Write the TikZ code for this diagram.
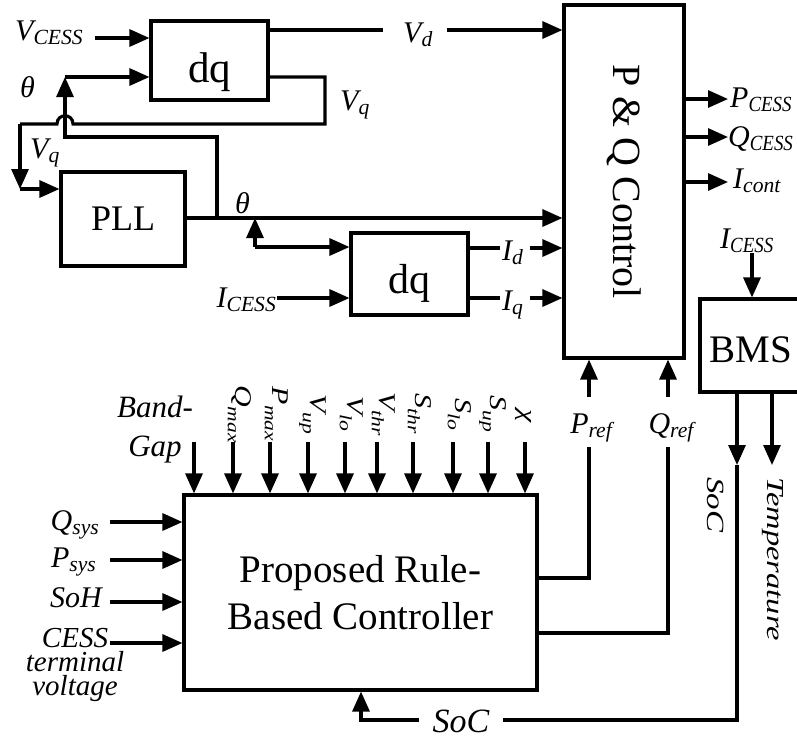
\documentclass[tikz,border=0pt]{standalone}
\usepackage{fontspec}
\setmainfont{Liberation Serif}
\usepackage{graphicx}
\usetikzlibrary{arrows.meta}
\newcommand\sbs[2]{#1\raisebox{-4pt}{\scalebox{0.72}{#2}}}
\newcommand\sbc[2]{#1\raisebox{-4pt}{\scalebox{0.63}[0.72]{#2}}}
\newcommand\sbr[2]{\scalebox{1}[0.8]{#1\raisebox{-9pt}{\scalebox{0.72}{#2}}}}
\begin{document}
\begin{tikzpicture}[x=1pt,y=-1pt,
  box/.style={draw, line width=3.1pt, inner sep=0pt},
  ln/.style={line width=3.1pt},
  arr/.style={line width=3.1pt, -{Triangle[length=20pt,width=17pt]}},
  lbl/.style={font=\fontsize{30}{34}\selectfont\itshape, inner sep=0pt},
  rlbl/.style={lbl, rotate=-90, anchor=base},
]
\useasboundingbox (0,0) rectangle (797,740);

% ---------- boxes ----------
\node[box, minimum width=117pt, minimum height=79pt, font=\fontsize{43}{43}\selectfont,
      text height=44pt, text depth=0pt] (dq1) at (209.5,60.5) {dq};
\node[box, minimum width=124pt, minimum height=94pt, font=\fontsize{36}{36}\selectfont,
      text height=22pt, text depth=0pt] (pll) at (123,219) {PLL};
\node[box, minimum width=117pt, minimum height=82pt, font=\fontsize{42}{42}\selectfont,
      text height=38pt, text depth=0pt] (dq2) at (409.5,274) {dq};
\node[box, minimum width=120pt, minimum height=353pt] (pq) at (624,181.5) {};
\node[rotate=-90, font=\fontsize{40}{40}\selectfont, inner sep=0pt] (pqt) at (pq.center) {P \& Q Control};
\node[box, minimum width=102pt, minimum height=93pt, font=\fontsize{39}{39}\selectfont,
      text height=34pt, text depth=0pt] (bms) at (751,345.5) {BMS};
\node[box, minimum width=353pt, minimum height=195pt, font=\fontsize{39}{47}\selectfont,
      align=center] (rbc) at (360.5,592.5) {Proposed Rule-\\Based Controller};

% ---------- top dq ----------
\node[lbl, anchor=base west] (vcess) at (15,40) {\sbs{V}{CESS}};
\coordinate (vc1) at (95,38);
\draw[arr] (vc1) -- (vc1 -| dq1.west);

\node[lbl, anchor=base west] (vd) at (403,42) {\sbs{V}{d}};
\coordinate (vdA) at (383,30);
\coordinate (vdB) at (447,30);
\draw[ln] (dq1.east |- vdA) -- (vdA);
\draw[arr] (vdB) -- (vdB -| pq.west);

% Vq loop
\node[lbl, anchor=base west] (vqr) at (340,110) {\sbs{V}{q}};
\node[lbl, anchor=base west] (vql) at (30,158) {\sbs{V}{q}};
\coordinate (vq1) at (325,77);
\coordinate (vq2) at (325,124);
\coordinate (jR) at (73,124);
\coordinate (jL) at (57,124);
\coordinate (vqL) at (20,124);
\coordinate (vqD) at (20,189);
\draw[ln] (dq1.east |- vq1) -- (vq1) -- (vq2) -- (jR) .. controls (73,113) and (57,113) .. (jL) -- (vqL);
\draw[arr] (vqL) -- (vqD);
\draw[arr] (vqD) -- (vqD -| pll.west);

% theta to top dq
\node[lbl, anchor=base west] (th1) at (20,97) {θ};
\coordinate (j1) at (217,218);
\coordinate (t1) at (217,137);
\coordinate (t2) at (65,137);
\coordinate (t3) at (65,77);
\draw[arr] (j1) -- (t1) -- (t2) -- (t3);
\draw[arr] (t3) -- (t3 -| dq1.west);

% PLL output
\node[lbl, anchor=base west] (th2) at (235,213) {θ};
\draw[arr] (pll.east |- j1) -- (j1 -| pq.west);

% theta to lower dq
\coordinate (t4) at (255,247);
\coordinate (t5) at (255,218);
\draw[arr] (t4) -- (t5);
\draw[arr] (t4) -- (t4 -| dq2.west);

% I_CESS to lower dq
\node[lbl, anchor=base east] (icess) at (276,307) {\sbs{I}{CESS}};
\coordinate (ic1) at (277,298);
\draw[arr] (ic1) -- (ic1 -| dq2.west);

% Id, Iq
\node[lbl, anchor=base west] (idl) at (502,260) {\sbs{I}{d}};
\node[lbl, anchor=base west] (iql) at (502,310) {\sbs{I}{q}};
\coordinate (id1) at (500,248);
\coordinate (id2) at (530,248);
\coordinate (iq1) at (500,298);
\coordinate (iq2) at (530,298);
\draw[ln] (dq2.east |- id1) -- (id1);
\draw[arr] (id2) -- (id2 -| pq.west);
\draw[ln] (dq2.east |- iq1) -- (iq1);
\draw[arr] (iq2) -- (iq2 -| pq.west);

% P&Q outputs
\coordinate (po1) at (728,99);
\coordinate (po2) at (728,137);
\coordinate (po3) at (728,182);
\draw[arr] (po1 -| pq.east) -- (po1);
\draw[arr] (po2 -| pq.east) -- (po2);
\draw[arr] (po3 -| pq.east) -- (po3);
\node[lbl, anchor=base west] (pcess) at (730,107) {\sbc{P}{CESS}};
\node[lbl, anchor=base west] (qcess) at (728,146) {\sbc{Q}{CESS}};
\node[lbl, anchor=base west] (icont) at (733,188) {\sbs{I}{cont}};

% BMS
\node[lbl, anchor=base west] (bicess) at (720,248) {\sbc{I}{CESS}};
\coordinate (bi1) at (752,253);
\draw[arr] (bi1) -- (bi1 |- bms.north);
\coordinate (socT) at (737,465);
\coordinate (tmpT) at (772,465);
\draw[arr] (socT |- bms.south) -- (socT);
\draw[arr] (tmpT |- bms.south) -- (tmpT);
\node[lbl, font=\fontsize{33}{33}\selectfont\itshape, rotate=-90, anchor=base west] (socv) at (707,477) {\scalebox{1}[0.75]{SoC}};
\node[lbl, font=\fontsize{32.5}{33}\selectfont\itshape, rotate=-90, anchor=base west] (tmpv) at (767,477) {\scalebox{1}[0.75]{Temperature}};

% SoC feedback
\node[lbl, font=\fontsize{34}{34}\selectfont\itshape, inner xsep=13pt] (socl) at (461,721) {SoC};
\coordinate (socC) at (737,720);
\coordinate (socD) at (361,720);
\draw[ln] (socT) -- (socC) -- (socC -| socl.east);
\draw[arr] (socl.west |- socC) -- (socD) -- (socD |- rbc.south);

% P_ref, Q_ref
\node[lbl, anchor=base] (pref) at (591,433) {\sbs{P}{ref}};
\node[lbl, anchor=base] (qref) at (671,433) {\sbs{Q}{ref}};
\coordinate (prefA) at (589,447);
\coordinate (prefB) at (589,397);
\coordinate (qrefA) at (668,447);
\coordinate (qrefB) at (668,397);
\draw[ln] (rbc.east |- 0,578) -| (prefA);
\draw[arr] (prefB) -- (prefB |- pq.south);
\draw[ln] (rbc.east |- 0,633) -| (qrefA);
\draw[arr] (qrefB) -- (qrefB |- pq.south);

% top inputs of RBC
\node[lbl, font=\fontsize{31}{39}\selectfont\itshape, align=center] (bg) at (155,430) {Band-\\Gap};
\foreach \x [count=\i] in {194,233,270,308,345,377,413,453,488,525}{
  \coordinate (in\i) at (\x,442);
  \draw[arr] (in\i) -- (in\i |- rbc.north);
}
\node[rlbl] (qmax) at (235,414) {\sbr{Q}{max}};
\node[rlbl] (pmax) at (272,414) {\sbr{P}{max}};
\node[rlbl] (vup) at (310,414) {\sbr{V}{up}};
\node[rlbl] (vlo) at (347,414) {\sbr{V}{lo}};
\node[rlbl] (vthr) at (379,414) {\sbr{V}{thr}};
\node[rlbl] (sthr) at (415,414) {\sbr{S}{thr}};
\node[rlbl] (slo) at (455,414) {\sbr{S}{lo}};
\node[rlbl] (sup) at (490,414) {\sbr{S}{up}};
\node[rlbl] (chi) at (520,416) {\scalebox{1}[0.8]{χ}};

% left inputs of RBC
\node[lbl, anchor=base east] (qsys) at (99,530) {\sbs{Q}{sys}};
\node[lbl, anchor=base east] (psys) at (96,567) {\sbs{P}{sys}};
\node[lbl, anchor=base east] (soh) at (102,607) {SoH};
\node[lbl, font=\fontsize{29}{24}\selectfont\itshape, align=center, anchor=north] (cess) at (75,628) {CESS\\terminal\\voltage};
\foreach \y/\n in {522/a,560/b,602/c,643/d}{
  \coordinate (l\n) at (110,\y);
  \draw[arr] (l\n) -- (l\n -| rbc.west);
}
\end{tikzpicture}
\end{document}
